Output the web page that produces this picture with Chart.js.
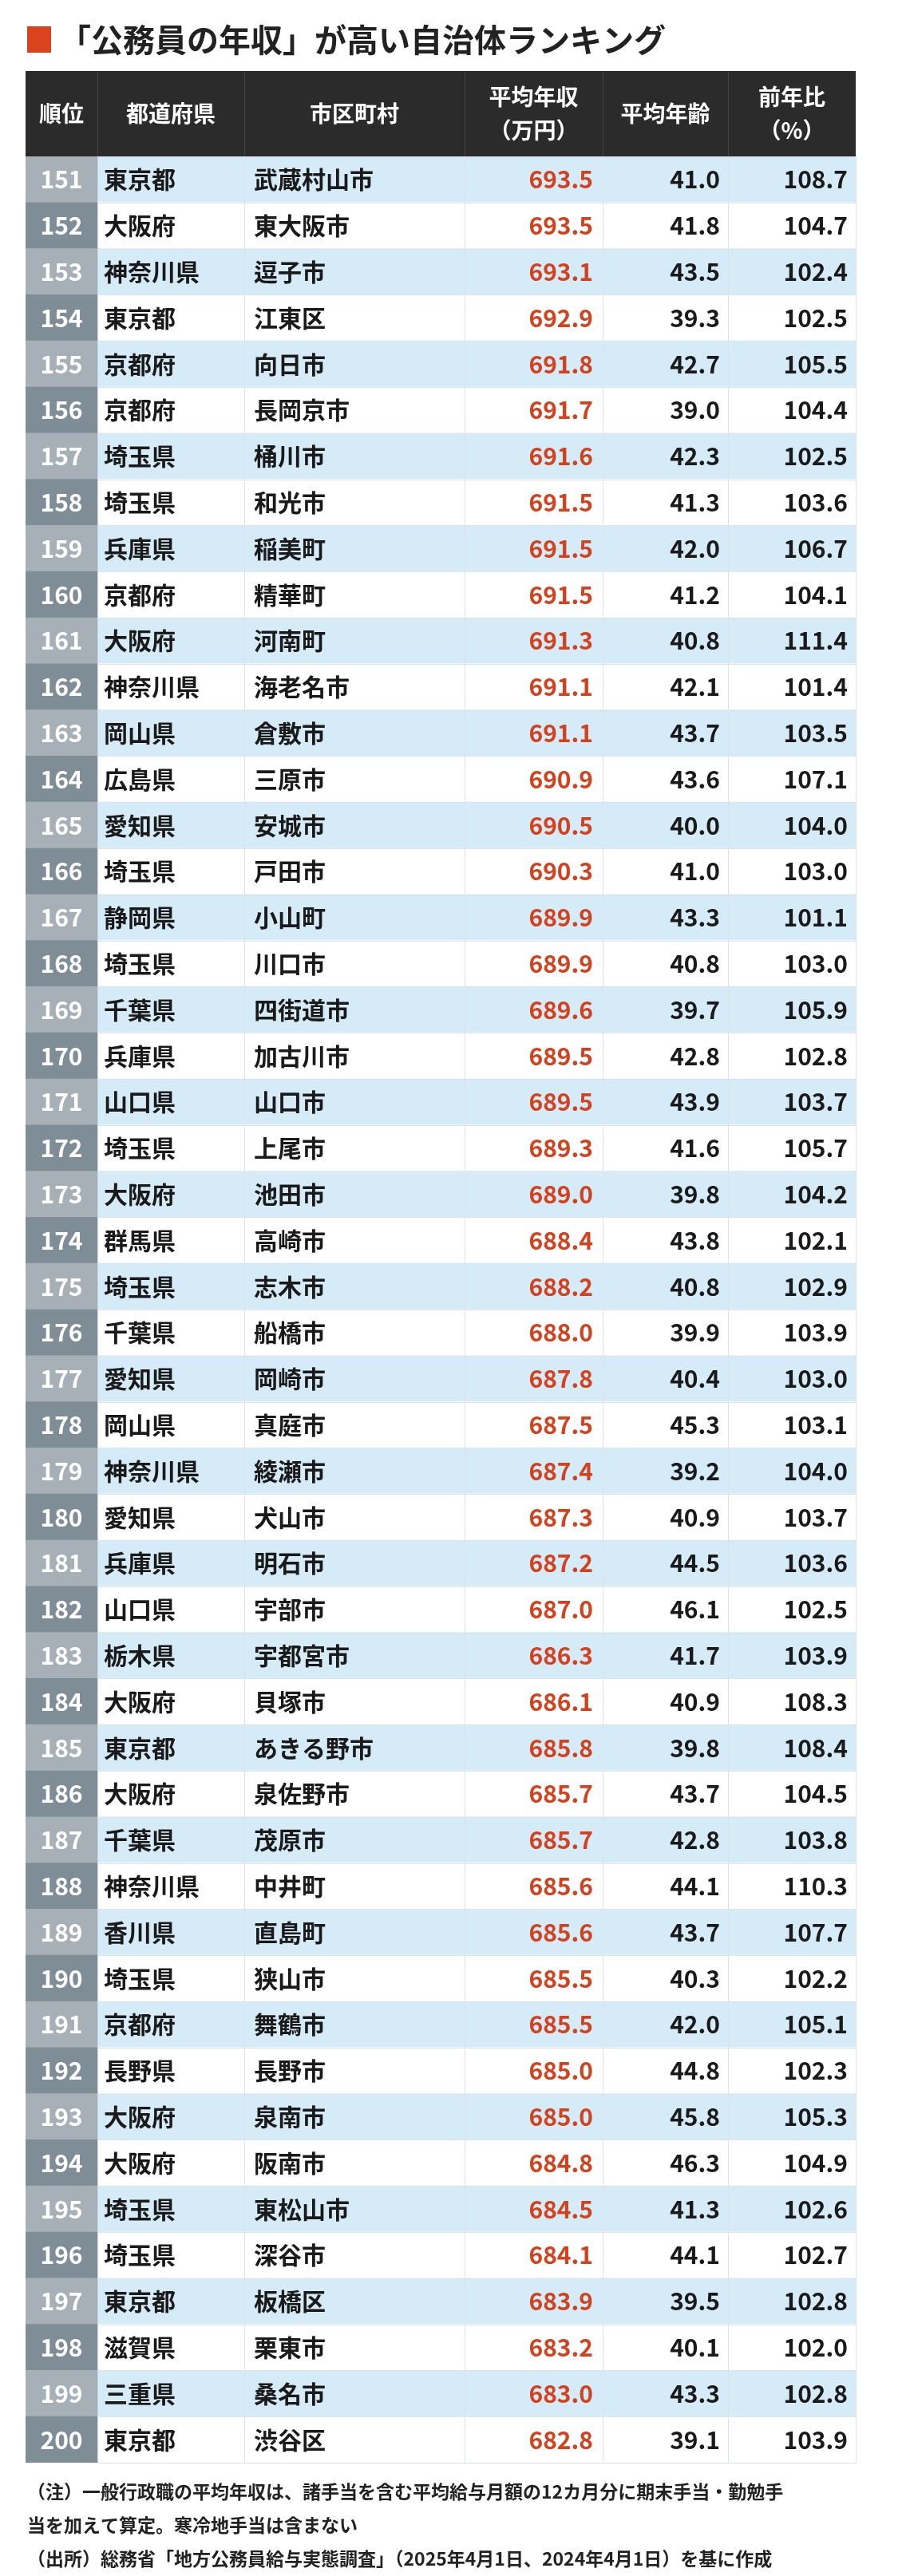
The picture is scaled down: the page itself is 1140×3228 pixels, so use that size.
<!DOCTYPE html>
<html><head><meta charset="utf-8">
<script src="https://cdn.jsdelivr.net/npm/chart.js@4"></script>
<style>html,body{margin:0;padding:0;background:#fff}#wrap{width:1140px;height:3228px}</style>
</head><body><div id="wrap"><canvas id="c"></canvas></div>
<script>
// ---- データ ----
const ranks = [151,152,153,154,155,156,157,158,159,160,161,162,163,164,165,166,167,168,169,170,171,172,173,174,175,176,177,178,179,180,181,182,183,184,185,186,187,188,189,190,191,192,193,194,195,196,197,198,199,200];
const prefs = ['東京都','大阪府','神奈川県','東京都','京都府','京都府','埼玉県','埼玉県','兵庫県','京都府','大阪府','神奈川県','岡山県','広島県','愛知県','埼玉県','静岡県','埼玉県','千葉県','兵庫県','山口県','埼玉県','大阪府','群馬県','埼玉県','千葉県','愛知県','岡山県','神奈川県','愛知県','兵庫県','山口県','栃木県','大阪府','東京都','大阪府','千葉県','神奈川県','香川県','埼玉県','京都府','長野県','大阪府','大阪府','埼玉県','埼玉県','東京都','滋賀県','三重県','東京都'];
const cities = ['武蔵村山市','東大阪市','逗子市','江東区','向日市','長岡京市','桶川市','和光市','稲美町','精華町','河南町','海老名市','倉敷市','三原市','安城市','戸田市','小山町','川口市','四街道市','加古川市','山口市','上尾市','池田市','高崎市','志木市','船橋市','岡崎市','真庭市','綾瀬市','犬山市','明石市','宇部市','宇都宮市','貝塚市','あきる野市','泉佐野市','茂原市','中井町','直島町','狭山市','舞鶴市','長野市','泉南市','阪南市','東松山市','深谷市','板橋区','栗東市','桑名市','渋谷区'];
const income = [693.5,693.5,693.1,692.9,691.8,691.7,691.6,691.5,691.5,691.5,691.3,691.1,691.1,690.9,690.5,690.3,689.9,689.9,689.6,689.5,689.5,689.3,689.0,688.4,688.2,688.0,687.8,687.5,687.4,687.3,687.2,687.0,686.3,686.1,685.8,685.7,685.7,685.6,685.6,685.5,685.5,685.0,685.0,684.8,684.5,684.1,683.9,683.2,683.0,682.8];
const age = [41.0,41.8,43.5,39.3,42.7,39.0,42.3,41.3,42.0,41.2,40.8,42.1,43.7,43.6,40.0,41.0,43.3,40.8,39.7,42.8,43.9,41.6,39.8,43.8,40.8,39.9,40.4,45.3,39.2,40.9,44.5,46.1,41.7,40.9,39.8,43.7,42.8,44.1,43.7,40.3,42.0,44.8,45.8,46.3,41.3,44.1,39.5,40.1,43.3,39.1];
const yoy = [108.7,104.7,102.4,102.5,105.5,104.4,102.5,103.6,106.7,104.1,111.4,101.4,103.5,107.1,104.0,103.0,101.1,103.0,105.9,102.8,103.7,105.7,104.2,102.1,102.9,103.9,103.0,103.1,104.0,103.7,103.6,102.5,103.9,108.3,108.4,104.5,103.8,110.3,107.7,102.2,105.1,102.3,105.3,104.9,102.6,102.7,102.8,102.0,102.8,103.9];
const headers = [['順位'],['都道府県'],['市区町村'],['平均年収','（万円）'],['平均年齢'],['前年比','（%）']];

// 列の境界（x軸の単位）
const colEdges = [0, 90, 274, 550, 723, 880, 1040];
const FONT = '"Noto Sans CJK JP", "Noto Sans", sans-serif';

const tablePlugin = {
  id: 'table',
  afterDatasetsDraw(chart) {
    const ctx = chart.ctx, x = chart.scales.x, y = chart.scales.y;
    const top = chart.chartArea.top, bottom = chart.chartArea.bottom;
    const px = colEdges.map(e => x.getPixelForValue(e));
    const rowH = (bottom - top) / ranks.length;
    ctx.save();
    // タイトル
    ctx.fillStyle = '#d9441f';
    ctx.fillRect(34, 33, 30, 33);
    ctx.fillStyle = '#222';
    ctx.font = `700 40px ${FONT}`;
    ctx.textBaseline = 'middle';
    ctx.textAlign = 'left';
    ctx.fillText('「公務員の年収」が高い自治体ランキング', 74, 50);
    // ヘッダー
    const hTop = 89;
    ctx.fillStyle = '#2b2b2b';
    ctx.fillRect(px[0], hTop, px[6] - px[0], top - hTop);
    ctx.fillStyle = '#fff';
    ctx.font = `700 28px ${FONT}`;
    ctx.textAlign = 'center';
    headers.forEach((h, i) => {
      const cx = (px[i] + px[i + 1]) / 2, cy = (hTop + top) / 2;
      if (h.length === 1) ctx.fillText(h[0], cx, cy);
      else { ctx.fillText(h[0], cx, cy - 21); ctx.fillText(h[1], cx, cy + 21); }
    });
    // 縦線
    ctx.strokeStyle = '#444'; ctx.lineWidth = 1;
    for (let i = 1; i < 6; i++) {
      ctx.beginPath(); ctx.moveTo(px[i] + .5, hTop); ctx.lineTo(px[i] + .5, top); ctx.stroke();
    }
    ctx.strokeStyle = '#dde3e6';
    for (let i = 2; i < 7; i++) {
      ctx.beginPath(); ctx.moveTo(px[i] + .5, top); ctx.lineTo(px[i] + .5, bottom); ctx.stroke();
    }
    for (let r = 0; r <= ranks.length; r++) {
      const yy = Math.round(top + r * rowH) + .5;
      ctx.beginPath(); ctx.moveTo(px[1], yy); ctx.lineTo(px[6], yy); ctx.stroke();
    }
    // セル
    ctx.font = `700 30px ${FONT}`;
    ranks.forEach((rk, r) => {
      const cy = y.getPixelForValue(r);
      ctx.fillStyle = '#fff'; ctx.textAlign = 'center';
      ctx.fillText(String(rk), (px[0] + px[1]) / 2, cy);
      ctx.fillStyle = '#1a1a1a'; ctx.textAlign = 'left';
      ctx.fillText(prefs[r], px[1] + 8, cy);
      ctx.fillText(cities[r], px[2] + 12, cy);
      ctx.textAlign = 'right';
      ctx.fillStyle = '#d2421f';
      ctx.fillText(income[r].toFixed(1), px[4] - 12, cy);
      ctx.fillStyle = '#1a1a1a';
      ctx.fillText(age[r].toFixed(1), px[5] - 10, cy);
      ctx.fillText(yoy[r].toFixed(1), px[6] - 10, cy);
    });
    // 注記
    ctx.fillStyle = '#222'; ctx.textAlign = 'left';
    ctx.font = `700 23px ${FONT}`;
    ctx.fillText('（注）一般行政職の平均年収は、諸手当を含む平均給与月額の12カ月分に期末手当・勤勉手', 34, bottom + 36);
    ctx.fillText('当を加えて算定。寒冷地手当は含まない', 34, bottom + 78);
    ctx.fillText('（出所）総務省「地方公務員給与実態調査」（2025年4月1日、2024年4月1日）を基に作成', 34, bottom + 120);
    ctx.restore();
  }
};

new Chart(document.getElementById('c'), {
  type: 'bar',
  data: {
    labels: ranks,
    datasets: [
      { data: ranks.map(() => [colEdges[0], colEdges[1]]), backgroundColor: ranks.map((_, i) => i % 2 ? '#7f8e96' : '#a6b0b6'), grouped: false },
      { data: ranks.map(() => [colEdges[1], colEdges[6]]), backgroundColor: ranks.map((_, i) => i % 2 ? '#ffffff' : '#d5ecf8'), grouped: false }
    ]
  },
  options: {
    indexAxis: 'y', responsive: true, maintainAspectRatio: false, animation: false,
    datasets: { bar: { barPercentage: 1, categoryPercentage: 1, borderWidth: 0 } },
    layout: { padding: { top: 196, bottom: 142, left: 32, right: 68 } },
    plugins: { legend: { display: false }, tooltip: { enabled: false } },
    scales: {
      x: { display: false, min: 0, max: 1040 },
      y: { display: false }
    }
  },
  plugins: [tablePlugin]
});
</script></body></html>
